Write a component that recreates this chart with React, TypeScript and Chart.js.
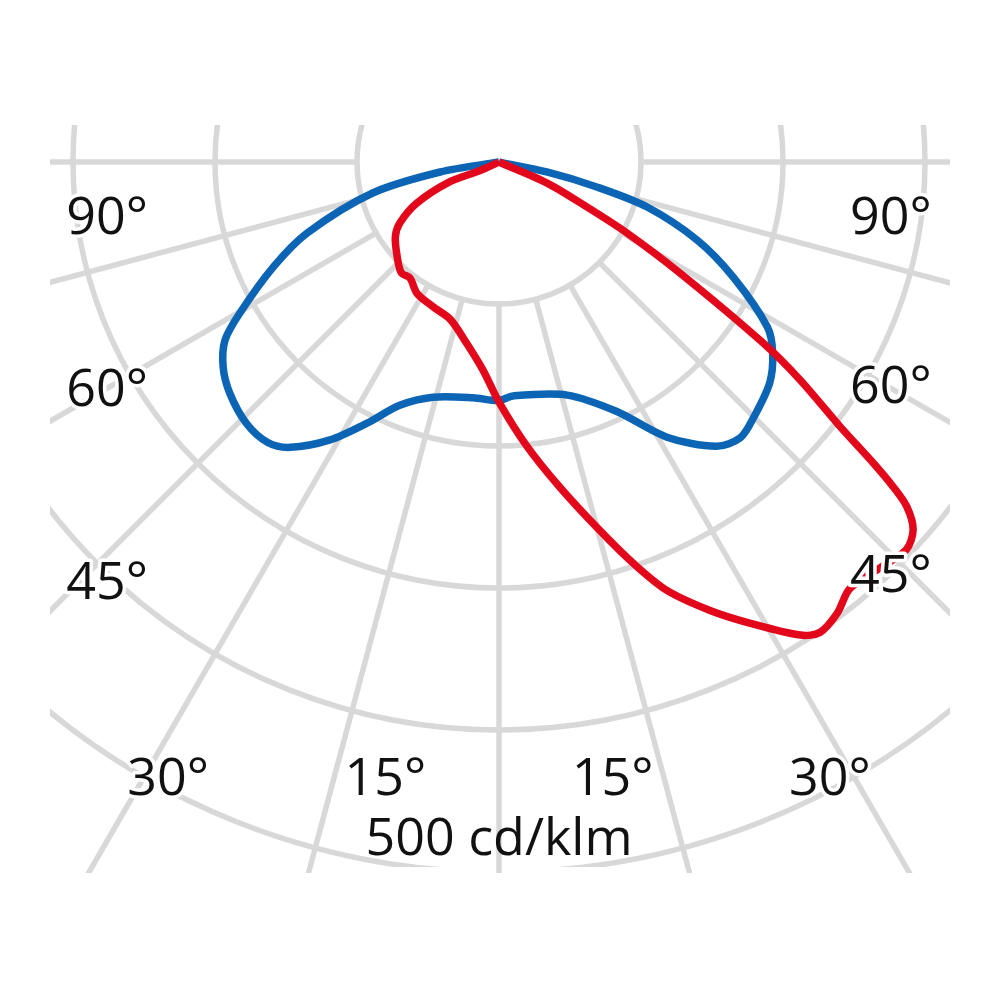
import { useEffect, useRef } from "react";
import { Chart, registerables, type ChartConfiguration, type Plugin } from "chart.js";

Chart.register(...registerables);

// gamma angle (deg from nadir, + = right) and luminous intensity (cd/klm)
// red: C90-C270 plane, blue: C0-C180 plane
const RED_ANGLES = [
  -90, -66, -68, -63.4, -58.4, -54.2, -47, -41.4, -37.5, -32, -24.5, -17.2, -10, -4.4, 0, 5.6, 10.6, 15.3, 18.5,
  21.4, 25.2, 28.6, 32.5, 34.3, 36.9, 39.4, 43.2, 46.4, 48.4, 49.8, 50.5, 51.2, 52.2, 54.1, 55.6, 58.5, 61, 62.9,
  66.4, 90,
];
const RED_VALUES = [
  0, 15, 39, 65, 82, 90, 98, 104, 103, 109, 112, 116, 130, 147, 169, 201, 233, 269, 298, 324, 349, 370, 395, 401,
  397, 389, 392, 396, 390, 376, 360, 338, 304, 262, 225, 149, 103, 70, 37, 0,
];

const BLUE_ANGLES = [
  -90, -80.4, -76.2, -69.7, -65.1, -59.8, -57, -53.4, -49.3, -44, -39.5, -36.2, -31.3, -26.8, -22.2, -15.7, -6.3, 0,
  3.4, 16.3, 25.2, 31.4, 37.4, 41.2, 44.9, 50.8, 55.1, 58.4, 63.8, 68.5, 73.1, 75.7, 78.2, 90,
];
const BLUE_VALUES = [
  0, 42, 92, 144, 175, 211, 230, 242, 250, 256, 256, 249, 229, 206, 185, 172, 167, 168, 165, 171, 194, 227, 252, 258,
  254, 246, 235, 222, 184, 150, 109, 71, 35, 0,
];

// grid
const RING_VALUES = [100, 200, 300, 400, 500];
const SPOKE_ANGLES = [-90, -75, -60, -45, -30, -15, 0, 15, 30, 45, 60, 75, 90];
const ANGLE_LABELS = ["90°", "60°", "45°", "30°", "15°"];
const SCALE_LABEL = "500 cd/klm";

// where the angle labels sit, offsets from the pole in cd/klm (left side; right is mirrored)
const LABEL_SPOTS: [number, number, number][] = [
  [276, 51, 51],
  [276, 172, 170],
  [276, 308, 303],
  [233, 446, 446],
  [80, 446, 446],
];

const RED = "#e2071b";
const BLUE = "#0b65b4";
const GRID = "#d8d8d8";
const INK = "#111111";
const FONT = "52px 'Open Sans', 'DejaVu Sans', sans-serif";

const toXY = (angles: number[], values: number[]) =>
  angles.map((a, i) => {
    const t = (a * Math.PI) / 180;
    return { x: values[i] * Math.sin(t), y: -values[i] * Math.cos(t) };
  });

const polarGrid: Plugin<"scatter"> = {
  id: "polarGrid",
  beforeDatasetsDraw(chart) {
    const { ctx, chartArea: area } = chart;
    const sx = chart.scales.x;
    const sy = chart.scales.y;
    const cx = sx.getPixelForValue(0);
    const cy = sy.getPixelForValue(0);
    const px = (v: number) => sx.getPixelForValue(v) - cx;

    ctx.save();
    ctx.strokeStyle = GRID;
    ctx.lineWidth = 5.5;
    ctx.beginPath();
    ctx.rect(area.left, area.top, area.right - area.left, area.bottom - area.top);
    ctx.clip();
    const r0 = px(RING_VALUES[0]);
    SPOKE_ANGLES.forEach((a) => {
      const t = (a * Math.PI) / 180;
      ctx.beginPath();
      ctx.moveTo(cx + r0 * Math.sin(t), cy + r0 * Math.cos(t));
      ctx.lineTo(cx + 1500 * Math.sin(t), cy + 1500 * Math.cos(t));
      ctx.stroke();
    });
    ctx.restore();

    ctx.save();
    ctx.strokeStyle = GRID;
    ctx.lineWidth = 5.5;
    ctx.beginPath();
    ctx.rect(area.left, area.top, area.right - area.left, area.bottom - area.top - 6);
    ctx.clip();
    RING_VALUES.forEach((v) => {
      ctx.beginPath();
      ctx.arc(cx, cy, px(v), 0, Math.PI * 2);
      ctx.stroke();
    });
    ctx.restore();
  },
  afterDatasetsDraw(chart) {
    const { ctx } = chart;
    const sx = chart.scales.x;
    const sy = chart.scales.y;
    const cx = sx.getPixelForValue(0);
    const cy = sy.getPixelForValue(0);
    const px = (v: number) => sx.getPixelForValue(v) - cx;

    ctx.save();
    ctx.font = FONT;
    ctx.textAlign = "center";
    ctx.textBaseline = "alphabetic";
    ctx.lineJoin = "round";
    ctx.strokeStyle = "#ffffff";
    ctx.lineWidth = 7;
    ctx.fillStyle = INK;
    const put = (text: string, x: number, y: number) => {
      ctx.strokeText(text, x, y);
      ctx.fillText(text, x, y);
    };
    ANGLE_LABELS.forEach((label, i) => {
      const [dx, dyL, dyR] = LABEL_SPOTS[i];
      put(label, cx - px(dx), cy + px(dyL));
      put(label, cx + px(dx), cy + px(dyR));
    });
    ctx.fillText(SCALE_LABEL, cx, cy + px(488));
    ctx.restore();
  },
};

export default function App() {
  const canvasRef = useRef<HTMLCanvasElement>(null);

  useEffect(() => {
    document.body.style.margin = "0";
    if (!canvasRef.current) return;
    const config: ChartConfiguration<"scatter"> = {
      type: "scatter",
      data: {
        datasets: [
          {
            label: "C90-C270",
            data: toXY(RED_ANGLES, RED_VALUES),
            showLine: true,
            borderColor: RED,
            borderWidth: 7.5,
            pointRadius: 0,
            tension: 0.3,
          },
          {
            label: "C0-C180",
            data: toXY(BLUE_ANGLES, BLUE_VALUES),
            showLine: true,
            borderColor: BLUE,
            borderWidth: 7.5,
            pointRadius: 0,
            tension: 0.3,
          },
        ],
      },
      options: {
        animation: false,
        responsive: true,
        maintainAspectRatio: false,
        layout: { padding: { left: 50, right: 50, top: 125, bottom: 127 } },
        plugins: { legend: { display: false }, tooltip: { enabled: false } },
        scales: {
          x: { type: "linear", min: -316.2, max: 317.6, display: false },
          y: { type: "linear", min: -500.7, max: 26.1, display: false },
        },
      },
      plugins: [polarGrid],
    };
    const chart = new Chart(canvasRef.current, config);
    return () => chart.destroy();
  }, []);

  return (
    <div style={{ position: "absolute", left: 0, top: 0, width: 1000, height: 1000, background: "#fff" }}>
      <canvas ref={canvasRef} />
    </div>
  );
}
